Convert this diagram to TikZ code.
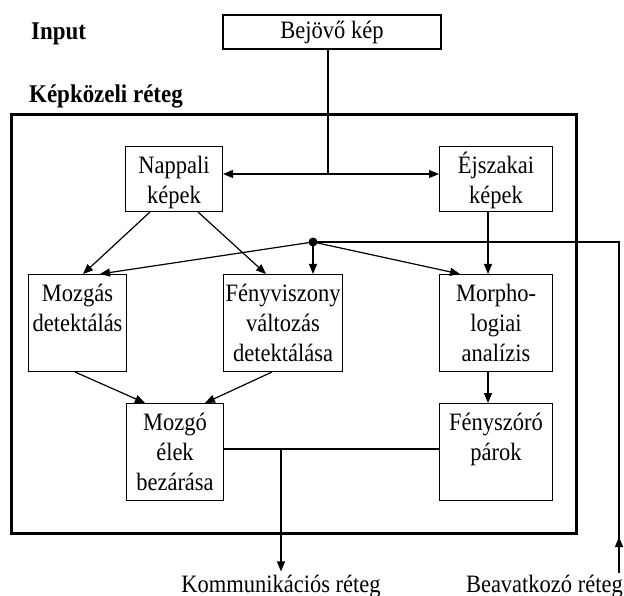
\documentclass[tikz,border=0pt]{standalone}
\usepackage{fontspec}
\setmainfont{Liberation Serif}[FakeStretch=0.9]
\usetikzlibrary{arrows.meta}
\newcommand\diafs{\fontsize{25}{30}\selectfont}
\newcommand\diabf{\fontsize{25.5}{28}\selectfont\bfseries}
\begin{document}
\begin{tikzpicture}[x=1pt,y=-1pt,
  bx/.style={draw, line width=1pt, inner sep=0pt, anchor=north west},
  lbl/.style={anchor=north, align=center, inner sep=0pt, yshift=-6pt, font=\diafs},
  conn/.style={line width=1.2pt},
  arr/.style={conn, -{Triangle[length=10pt,width=8pt]}},
  darr/.style={conn, {Triangle[length=10pt,width=8pt]}-{Triangle[length=10pt,width=8pt]}},
  txt/.style={inner sep=0pt, font=\diafs},
  ttl/.style={inner sep=0pt, font=\diabf, anchor=base west},
]
\useasboundingbox (0,0) rectangle (624,596);

% titles
\node[ttl] (tin) at (31,40) {Input};
\node[ttl] (tkr) at (29,103) {Képközeli réteg};

% outer layer box
\node[draw, line width=3pt, inner sep=0pt, anchor=north west,
      minimum width=565pt, minimum height=419pt] (outer) at (10,113) {};

% input box
\node[draw, line width=2pt, inner sep=0pt, anchor=north west,
      minimum width=218pt, minimum height=34pt, font=\diafs] (bej) at (222,14) {Bejövő kép};

% boxes
\node[bx, minimum width=97pt, minimum height=65pt,
      label={[lbl]north:{\rule{0pt}{21pt}Nappali\\képek}}] (nap) at (125,146) {};
\node[bx, minimum width=113pt, minimum height=65pt,
      label={[lbl]north:{\rule{0pt}{21pt}Éjszakai\\képek}}] (ejs) at (439,146) {};
\node[bx, minimum width=98pt, minimum height=97pt,
      label={[lbl]north:{\rule{0pt}{21pt}Mozgás\\detektálás}}] (moz) at (28,274) {};
\node[bx, minimum width=119pt, minimum height=97pt,
      label={[lbl]north:{\rule{0pt}{21pt}Fényviszony\\változás\\detektálása}}] (feny) at (223,274) {};
\node[bx, minimum width=113pt, minimum height=97pt,
      label={[lbl]north:{\rule{0pt}{21pt}Morpho-\\logiai\\analízis}}] (mor) at (439,274) {};
\node[bx, minimum width=97pt, minimum height=97pt,
      label={[lbl]north:{\rule{0pt}{21pt}Mozgó\\élek\\bezárása}}] (mozgo) at (126,403) {};
\node[bx, minimum width=113pt, minimum height=97pt,
      label={[lbl]north:{\rule{0pt}{21pt}Fényszóró\\párok}}] (fen) at (439,403) {};

% bottom texts
\node[txt, anchor=base] (kom) at (281,592) {Kommunikációs réteg};
\node[txt, anchor=base east] (bea) at (623,592) {Beavatkozó réteg};

% junctions
\coordinate (j) at (328,174);
\node[circle, fill, inner sep=0pt, minimum size=9pt] (dot) at (313,242) {};
\coordinate (r1) at (619,242);
\coordinate (r2) at (619,573);
\coordinate (rm) at (619,537);
\coordinate (b1) at (281,449);

% connectors
\draw[conn] ([xshift=106pt]bej.south west) -- (j);
\draw[darr] (nap.east |- j) -- (ejs.west |- j);

\draw[arr] ([xshift=25pt]nap.south west) -- ([xshift=55pt]moz.north west);
\draw[arr] ([xshift=73pt]nap.south west) -- ([xshift=43pt]feny.north west);

\draw[arr] (dot.center) -- ([xshift=72pt]moz.north west);
\draw[arr] (dot.center) -- (dot.center |- feny.north);
\draw[arr] (dot.center) -- ([xshift=21pt]mor.north west);
\draw[arr] ([xshift=49pt]ejs.south west) -- ([xshift=49pt]mor.north west);

\draw[arr] ([xshift=47pt]moz.south west) -- ([xshift=19pt]mozgo.north west);
\draw[arr] ([xshift=49pt]feny.south west) -- ([xshift=79pt]mozgo.north west);
\draw[arr] ([xshift=49pt]mor.south west) -- ([xshift=49pt]fen.north west);

\draw[conn] (mozgo.east |- b1) -- (fen.west |- b1);
\draw[arr] (b1) -- ([yshift=3pt]kom.north);

\draw[conn] (dot.center) -- (r1) -- (r2);
\draw[arr] (r2) -- (rm);
\end{tikzpicture}
\end{document}
